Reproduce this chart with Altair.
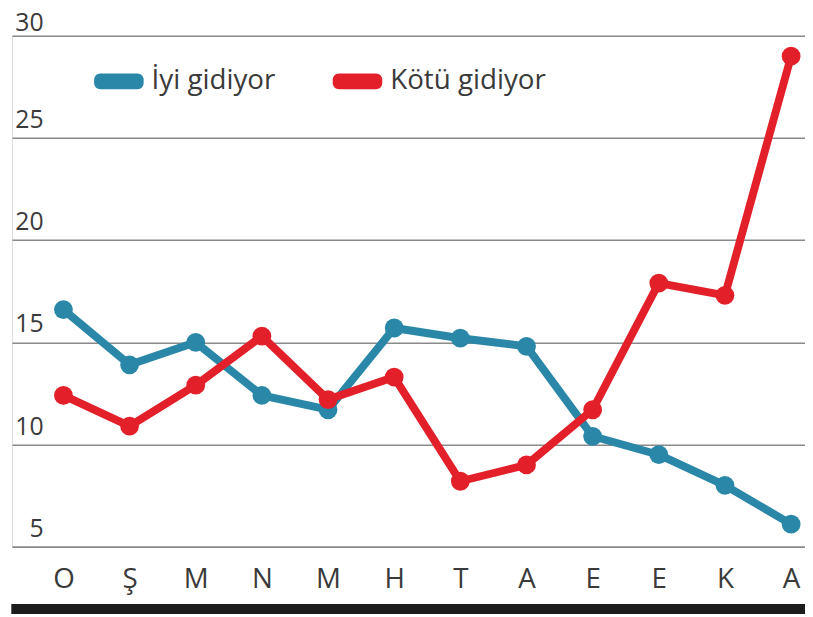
import altair as alt
import pandas as pd

months = ["O", "Ş", "M", "N", "M", "H", "T", "A", "E", "E", "K", "A"]
iyi = [16.6, 13.9, 15.0, 12.4, 11.7, 15.7, 15.2, 14.8, 10.4, 9.5, 8.0, 6.1]
kotu = [12.4, 10.9, 12.9, 15.3, 12.2, 13.3, 8.2, 9.0, 11.7, 17.9, 17.3, 29.0]
series = ["İyi gidiyor", "Kötü gidiyor"]
colors = ["#2a87a8", "#e3202a"]
y_ticks = [5, 10, 15, 20, 25, 30]

rows = []
for i, m in enumerate(months):
    rows.append({"i": i, "month": m, "series": series[0], "v": iyi[i]})
    rows.append({"i": i, "month": m, "series": series[1], "v": kotu[i]})
df = pd.DataFrame(rows)
ticks_df = pd.DataFrame({"v": y_ticks, "label": [str(t) for t in y_ticks]})

FONT = "Open Sans"
TXT = "#3a3a3a"
W, H = 801, 516

label_expr = "[" + ",".join("'" + m + "'" for m in months) + "][datum.value]"

x_enc = alt.X(
    "i:Q",
    scale=alt.Scale(domain=[-0.778, 11.21], nice=False, zero=False),
    axis=alt.Axis(
        values=list(range(len(months))), labelExpr=label_expr, title=None,
        domain=False, ticks=False, grid=False, labelFlush=False, labelOverlap=False,
        labelPadding=41, labelBaseline="alphabetic", labelFontSize=28,
        labelFont=FONT, labelColor=TXT,
    ),
)
y_scale = alt.Scale(domain=[5, 30], nice=False, zero=False)
y_enc = alt.Y(
    "v:Q",
    scale=y_scale,
    axis=alt.Axis(
        values=y_ticks, title=None, domain=False, ticks=False, labels=False,
        grid=True, gridColor="#8a8a8a", gridWidth=1.6,
    ),
)

pill = ("M-0.75,-0.32 L0.75,-0.32 A0.25,0.25 0 0 1 1,-0.07 L1,0.07 A0.25,0.25 0 0 1 0.75,0.32 "
        "L-0.75,0.32 A0.25,0.25 0 0 1 -1,0.07 L-1,-0.07 A0.25,0.25 0 0 1 -0.75,-0.32 Z")

lines = alt.Chart(df).mark_line(strokeWidth=8, strokeJoin="round", strokeCap="round").encode(
    x=x_enc, y=y_enc,
    stroke=alt.Stroke("series:N", scale=alt.Scale(domain=series, range=colors), legend=None),
    detail="series:N",
)
points = alt.Chart(df).mark_circle(size=360, opacity=1).encode(
    x=x_enc, y=y_enc,
    color=alt.Color(
        "series:N", scale=alt.Scale(domain=series, range=colors),
        legend=alt.Legend(
            title=None, orient="none", legendX=83, legendY=21, direction="horizontal",
            symbolType=pill, symbolSize=2500, symbolStrokeWidth=0, symbolOpacity=1,
            labelFont=FONT, labelFontSize=28, labelColor=TXT, labelOffset=8,
            columnPadding=58, padding=0, labelLimit=400,
        ),
    ),
)
ylab_base = alt.Chart(ticks_df).encode(
    x=alt.value(32),
    y=alt.Y("v:Q", scale=y_scale),
    text="label:N",
)
ylabels_low = ylab_base.transform_filter("datum.v < 30").mark_text(
    align="right", baseline="alphabetic", font=FONT, fontSize=25, color=TXT, dy=-10
)
ylabels_top = ylab_base.transform_filter("datum.v >= 30").mark_text(
    align="right", baseline="alphabetic", font=FONT, fontSize=25, color=TXT, dy=-5
)
bar = alt.Chart(df).mark_rect(color="#1c1c1c").encode(
    x=alt.value(0), x2=alt.value(W), y=alt.value(574), y2=alt.value(584)
)

chart = alt.layer(lines, points, ylabels_low, ylabels_top, bar).resolve_scale(
    color="independent"
).properties(
    width=W, height=H,
    autosize="none",
    padding={"left": 4, "top": 25, "right": 0, "bottom": 68},
).configure_view(stroke=None).configure(background="white")

chart.save("out.html", embed_options={"renderer": "svg", "actions": False})
